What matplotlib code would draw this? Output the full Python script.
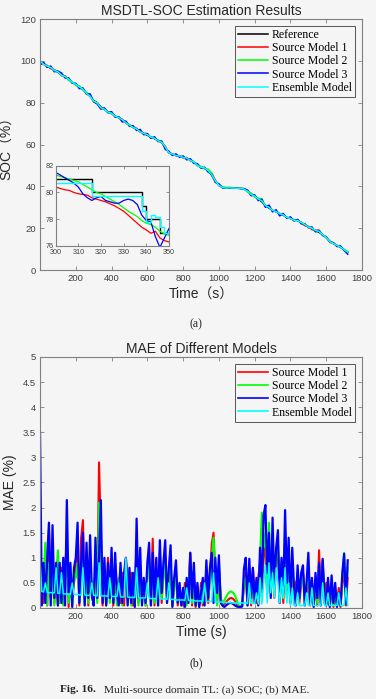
import numpy as np
import matplotlib
matplotlib.use("Agg")
import matplotlib.pyplot as plt
from matplotlib.ticker import FuncFormatter

# ---------------- data ----------------
soc_t = list(range(0, 1721, 20))
soc_ref = [99.5, 98.6, 97.4, 96.5, 95.5, 94.6, 93.3, 92.4, 91.1, 89.8,
           88.6, 87.6, 86.2, 84.6, 83.0, 81.0, 80.0, 78.0, 76.8, 75.6,
           74.8, 73.6, 72.8, 71.6, 70.6, 69.2, 68.3, 67.2, 66.2, 65.2,
           64.4, 63.6, 62.8, 62.0, 61.0, 58.6, 56.2, 55.2, 54.8, 54.4,
           54.0, 53.4, 52.6, 51.4, 50.0, 49.2, 48.6, 47.6, 45.2, 42.4,
           40.6, 39.4, 39.2, 39.2, 39.2, 39.1, 39.0, 38.8, 37.6, 36.4,
           35.2, 34.0, 32.6, 31.0, 29.6, 28.6, 27.8, 27.0, 26.2, 25.2,
           24.6, 24.0, 23.6, 22.8, 21.6, 20.6, 19.8, 18.8, 18.0, 17.0,
           15.4, 13.8, 12.6, 11.8, 10.8, 9.8, 8.4]
soc_dev_m1 = [0.1, -0.3, 0.4, -0.2, 0.3, 0.1, -0.4, 0.5, 0.2, -0.3,
              0.4, -0.2, 0.6, -0.5, 0.3, -0.6, -0.5, -0.8, 0.3, -0.2,
              0.4, -0.3, 0.2, 0.5, -0.4, 0.3, -0.2, 0.6, -0.3, 0.2,
              0.8, -0.4, 0.3, -0.5, 0.2, 0.6, -0.3, 0.4, -0.2, 0.3,
              -0.5, 0.4, -0.3, 0.2, 0.5, -0.2, 0.3, -0.4, 1.0, 0.6,
              -0.3, 0.2, 0.1, 0.2, 0.1, 0.0, 0.1, -0.2, 0.3, -0.8,
              0.5, -0.3, 0.4, -0.6, 1.2, -0.4, 0.3, -0.2, 0.5, -0.3,
              0.2, -0.4, 0.3, -0.2, -0.4, 0.3, -0.5, 0.2, 1.1, -0.3,
              0.4, -0.6, 0.3, -0.2, 0.5, -0.3, 0.2]
soc_dev_m2 = [-0.2, 0.3, -0.4, 0.6, -0.2, 0.4, -0.3, 0.2, -0.5, 0.3,
              -0.4, 0.5, -0.2, 0.3, 0.6, -0.3, -0.1, -0.6, 0.2, -0.4,
              0.3, -0.2, 0.4, -0.3, 0.2, -0.5, 0.3, -0.2, 0.4, -0.3,
              0.5, -0.2, 0.3, -0.4, 0.6, -0.3, 0.2, -0.3, 0.4, -0.2,
              0.3, -0.4, 0.2, 0.5, -0.3, 0.4, -0.2, 0.6, 1.2, -0.3,
              0.4, 0.3, 0.3, 0.3, 0.2, 0.1, 0.0, 0.2, -0.3, 0.5,
              -0.4, 0.3, 1.5, -0.5, 0.8, -0.3, 0.4, -0.2, 0.3, -0.4,
              0.3, -0.2, 0.4, -0.3, 0.5, -0.2, 0.3, -0.4, 0.8, -0.2,
              0.3, -0.4, 0.2, -0.3, 0.4, -0.2, 0.5]
soc_dev_m3 = [-1.5, 0.7, -0.5, 1.0, -0.7, 0.5, 0.9, -0.6, 0.8, -0.5,
              0.6, -0.9, 0.8, -0.5, 1.2, -0.5, -0.6, -1.0, 0.7, -0.4,
              0.9, -0.5, 0.5, -0.8, 0.6, -0.4, 0.7, -0.5, 1.0, -0.5,
              0.8, -0.6, 0.9, -0.5, 0.6, -0.9, 0.6, -0.4, 0.7, -0.5,
              0.5, -0.7, 0.6, -0.4, 0.8, -0.5, 0.5, -0.8, 0.7, -0.5,
              0.6, -0.1, 0.1, 0.0, -0.1, 0.1, 0.0, 0.1, 0.6, -0.8,
              0.7, -0.8, 1.2, -1.0, 1.4, -0.8, 1.0, -1.1, 0.8, -0.5,
              0.8, -0.5, 0.6, -0.7, 0.5, -0.4, 0.8, -0.5, 0.7, -0.5,
              0.5, -0.3, 0.5, -0.6, 0.7, -0.4, -0.8]
soc_dev_ens = [0.3, -0.2, 0.1, 0.3, -0.1, 0.2, -0.2, 0.1, 0.2, -0.1,
               0.2, -0.1, 0.3, -0.2, 0.1, -0.3, -0.2, -0.4, 0.1, -0.1,
               0.2, -0.1, 0.1, 0.2, -0.2, 0.1, -0.1, 0.2, -0.1, 0.1,
               0.3, -0.1, 0.2, -0.2, 0.1, 0.3, -0.1, 0.2, -0.1, 0.1,
               -0.2, 0.1, -0.1, 0.2, 0.1, -0.1, 0.2, -0.1, 0.4, 0.2,
               -0.1, 0.1, 0.0, 0.1, 0.0, 0.0, 0.1, -0.1, 0.1, -0.3,
               0.2, -0.1, 0.5, -0.2, 0.4, -0.1, 0.1, -0.1, 0.2, -0.1,
               0.1, -0.2, 0.1, -0.1, 0.2, -0.1, 0.3, 0.1, 0.4, -0.1,
               0.2, -0.2, 0.1, -0.1, 0.2, -0.1, 0.1]

inset_t = list(range(300, 351, 2))
inset_ref = [81, 81, 81, 81, 81, 81, 81, 81, 80, 80,
             80, 80, 80, 80, 80, 80, 80, 80, 80, 79,
             78, 78, 78, 77, 77, 77]
inset_m1 = [80.4, 80.3, 80.2, 80.15, 80.0, 79.9, 79.85, 79.8, 79.6, 79.5,
            79.4, 79.3, 79.15, 79.0, 78.8, 78.6, 78.3, 78.0, 77.7, 77.4,
            77.2, 76.95, 77.1, 76.6, 76.4, 76.3]
inset_m2 = [81.3, 81.2, 81.1, 81.0, 80.9, 80.8, 80.6, 80.4, 80.2, 80.0,
            79.9, 79.7, 79.5, 79.3, 79.1, 78.85, 78.6, 78.4, 78.2, 77.9,
            77.7, 77.6, 77.4, 77.1, 76.9, 76.8]
inset_m3 = [81.5, 81.3, 81.1, 80.9, 80.7, 80.4, 79.9, 79.6, 79.4, 79.6,
            79.7, 79.4, 79.3, 79.2, 79.2, 79.4, 79.5, 79.4, 79.1, 78.3,
            77.9, 77.8, 76.7, 75.9, 76.6, 77.3]
inset_ens = [80.7, 80.7, 80.7, 80.7, 80.7, 80.7, 80.7, 80.7, 79.75, 79.75,
             79.75, 79.75, 79.75, 79.75, 79.75, 79.75, 79.75, 79.75, 79.75, 78.6,
             77.8, 78.3, 78.2, 77.4, 77.0, 76.9]

mae_t = list(range(0, 1721, 10))
mae_m1 = [0.5, 0.65, 0.1, 0.8, 0.05, 1.55, 0.2, 1.0, 0.1, 0.7,
          0.05, 0.6, 0.8, 0.1, 0.9, 1.2, 0.02, 0.7, 0.2, 0.5,
          0.8, 1.1, 0.05, 1.4, 1.75, 0.1, 0.9, 0.05, 1.0, 0.2,
          0.1, 0.8, 0.2, 2.9, 1.5, 0.05, 0.7, 0.1, 1.0, 0.4,
          0.9, 0.05, 0.8, 0.2, 0.6, 0.1, 0.7, 0.05, 1.0, 0.6,
          0.2, 0.7, 0.05, 0.5, 1.2, 0.1, 0.8, 0.2, 0.5, 0.05,
          0.7, 1.0, 0.1, 1.38, 0.05, 0.8, 0.2, 1.1, 0.1, 0.7,
          1.0, 0.2, 0.6, 0.9, 0.05, 0.5, 0.7, 0.05, 0.4, 0.1,
          0.05, 0.5, 0.1, 0.4, 1.1, 0.05, 0.6, 0.02, 0.4, 0.05,
          0.5, 0.05, 0.4, 0.7, 0.1, 0.6, 1.27, 1.5, 0.6, 0.1,
          0.8, 0.2, 0.05, 0.08, 0.12, 0.16, 0.19, 0.2, 0.18, 0.14,
          0.08, 0.03, 0.02, 0.05, 0.4, 0.7, 0.1, 0.6, 0.05, 0.8,
          0.3, 0.1, 0.6, 0.9, 0.2, 1.3, 1.0, 0.3, 1.2, 0.4,
          1.0, 0.2, 0.9, 1.1, 0.3, 0.8, 0.1, 1.2, 0.2, 1.0,
          0.4, 0.8, 0.1, 0.5, 0.6, 0.1, 0.5, 0.7, 0.42, 0.3,
          0.6, 0.05, 0.5, 0.1, 0.4, 0.05, 1.15, 0.2, 0.95, 0.1,
          0.5, 0.1, 0.05, 0.4, 0.02, 0.3, 0.05, 0.4, 0.02, 0.5,
          0.7, 0.05, 0.6]
mae_m2 = [0.3, 0.4, 0.6, 1.3, 0.05, 0.9, 0.3, 0.8, 0.05, 0.6,
          1.15, 0.1, 0.7, 0.05, 0.8, 0.9, 0.1, 0.5, 0.05, 0.7,
          0.6, 0.9, 0.1, 0.8, 1.2, 0.05, 0.7, 0.1, 0.9, 0.3,
          0.05, 0.7, 0.1, 2.1, 1.2, 0.2, 0.6, 0.05, 0.8, 0.1,
          0.7, 0.1, 0.6, 0.05, 0.5, 0.8, 0.05, 0.6, 0.8, 0.1,
          0.6, 0.05, 0.5, 0.1, 1.0, 0.05, 0.7, 0.1, 0.4, 0.05,
          0.6, 0.9, 0.05, 1.0, 0.1, 0.7, 0.05, 1.0, 0.2, 0.6,
          0.9, 0.1, 0.5, 0.8, 0.05, 0.4, 0.6, 0.1, 0.3, 0.05,
          0.3, 0.4, 0.05, 0.5, 0.9, 0.1, 0.5, 0.05, 0.3, 0.02,
          0.4, 0.1, 0.3, 0.6, 0.2, 0.5, 1.0, 1.4, 0.7, 0.05,
          0.9, 0.2, 0.08, 0.15, 0.22, 0.28, 0.32, 0.33, 0.3, 0.25,
          0.15, 0.06, 0.03, 0.05, 0.5, 0.6, 0.05, 0.7, 0.1, 0.6,
          0.2, 0.5, 0.1, 1.0, 1.9, 1.2, 1.5, 0.5, 1.7, 0.3,
          1.3, 0.3, 1.0, 1.3, 0.2, 0.9, 0.2, 1.5, 0.4, 1.1,
          0.2, 0.9, 0.3, 0.1, 0.7, 0.2, 0.6, 0.6, 0.1, 0.4,
          0.8, 0.1, 0.5, 0.05, 0.6, 0.1, 0.8, 0.1, 0.9, 0.2,
          0.1, 0.5, 0.05, 0.5, 0.05, 0.4, 0.05, 0.3, 0.05, 0.6,
          1.1, 0.1, 0.8]
mae_m3 = [3.5, 0.05, 0.9, 0.1, 1.0, 1.7, 0.05, 1.65, 0.2, 0.9,
          0.05, 0.9, 0.1, 1.0, 0.05, 2.15, 0.3, 0.9, 0.02, 0.8,
          1.0, 1.7, 0.1, 0.9, 1.5, 0.05, 1.3, 0.2, 1.45, 0.3,
          0.05, 1.4, 0.2, 1.0, 2.15, 0.1, 1.0, 0.05, 0.9, 0.2,
          1.2, 0.1, 1.1, 0.3, 0.05, 0.9, 0.1, 0.7, 1.0, 0.05,
          0.8, 0.1, 0.7, 0.02, 1.78, 0.2, 1.2, 0.05, 0.6, 0.1,
          0.9, 1.3, 0.05, 1.1, 0.2, 1.0, 0.05, 1.35, 0.3, 0.9,
          1.35, 0.1, 0.8, 1.25, 0.02, 0.6, 0.95, 0.1, 0.5, 0.05,
          0.4, 0.02, 0.6, 0.1, 1.1, 0.2, 0.9, 0.05, 0.5, 0.02,
          0.3, 0.6, 0.05, 0.95, 0.2, 0.8, 1.1, 0.1, 1.0, 0.3,
          1.05, 0.1, 0.05, 0.02, 0.05, 0.08, 0.1, 0.1, 0.08, 0.05,
          0.03, 0.02, 0.02, 0.03, 0.78, 1.0, 0.05, 0.98, 0.2, 0.8,
          0.1, 0.6, 0.05, 1.2, 0.4, 1.85, 2.05, 0.7, 1.5, 0.2,
          1.8, 0.4, 1.2, 1.55, 0.1, 1.0, 0.3, 1.95, 0.5, 1.4,
          0.1, 1.2, 0.4, 0.05, 0.85, 0.2, 0.7, 0.85, 0.05, 0.5,
          1.1, 0.1, 0.6, 0.02, 0.7, 0.2, 0.9, 0.05, 0.98, 0.3,
          0.05, 0.6, 0.02, 0.65, 0.1, 0.5, 0.02, 0.3, 0.05, 0.7,
          1.08, 0.1, 0.95]
mae_ens = [0.95, 0.33, 0.32, 0.5, 0.31, 0.3, 0.31, 0.3, 0.3, 0.8,
           0.29, 0.29, 0.7, 0.28, 0.28, 0.28, 0.28, 0.27, 0.5, 0.27,
           0.27, 0.27, 0.26, 0.26, 0.8, 0.26, 0.25, 0.25, 0.25, 0.5,
           0.25, 0.25, 0.24, 0.9, 0.24, 0.24, 0.24, 0.24, 0.23, 0.6,
           0.23, 0.23, 0.23, 0.23, 0.5, 0.22, 0.22, 0.22, 1.0, 0.22,
           0.21, 0.21, 0.21, 0.21, 0.8, 0.2, 0.2, 0.2, 0.2, 0.2,
           0.5, 0.19, 0.19, 0.19, 0.19, 0.18, 0.6, 0.18, 0.18, 0.18,
           0.18, 0.17, 0.5, 0.17, 0.17, 0.17, 0.16, 0.16, 0.16, 0.16,
           0.16, 0.15, 0.4, 0.15, 0.15, 0.15, 0.15, 0.14, 0.14, 0.14,
           0.14, 0.13, 0.5, 0.13, 0.13, 0.13, 0.13, 0.7, 0.12, 0.12,
           0.12, 0.12, 0.12, 0.11, 0.11, 0.11, 0.11, 0.1, 0.1, 0.1,
           0.1, 0.1, 0.1, 0.1, 0.1, 0.1, 0.09, 0.5, 0.09, 0.09,
           0.09, 0.3, 0.08, 0.6, 0.08, 0.5, 0.85, 0.1, 0.9, 0.3,
           0.7, 0.2, 0.8, 0.5, 0.1, 0.6, 0.2, 0.8, 0.1, 0.5,
           0.05, 0.4, 0.05, 0.05, 0.3, 0.05, 0.05, 0.05, 0.05, 0.3,
           0.05, 0.05, 0.4, 0.05, 0.05, 0.05, 0.05, 0.05, 0.5, 0.05,
           0.05, 0.3, 0.05, 0.05, 0.05, 0.05, 0.05, 0.3, 0.05, 0.05,
           0.05, 0.4, 0.05]

soc_labels = ["Reference", "Source Model 1", "Source Model 2", "Source Model 3", "Ensemble Model"]
mae_labels = ["Source Model 1", "Source Model 2", "Source Model 3", "Ensemble Model"]
x_ticks = [200, 400, 600, 800, 1000, 1200, 1400, 1600, 1800]
soc_yticks = [0, 20, 40, 60, 80, 100, 120]
mae_yticks = [0, 0.5, 1, 1.5, 2, 2.5, 3, 3.5, 4, 4.5, 5]

# ---------------- style ----------------
BG = "#f5f5f5"
SANS = ["Liberation Sans", "DejaVu Sans"]
SANS_CJK = ["Liberation Sans", "Noto Sans CJK SC", "DejaVu Sans"]
SERIF = ["Liberation Serif", "DejaVu Serif"]
TXT = "#262626"
TICKC = "#404040"
SPINE = "#808080"
C_REF, C1, C2, C3, CE = "#000000", "#ff0000", "#00ff00", "#0000ff", "#00ffff"

plt.rcParams["font.family"] = SANS

fig = plt.figure(figsize=(3.76, 6.99), dpi=100, facecolor=BG)


def style_axes(ax, fs=6.8):
    ax.set_facecolor(BG)
    for s in ax.spines.values():
        s.set_color(SPINE)
        s.set_linewidth(0.8)
    ax.tick_params(direction="in", top=True, right=True, length=3, width=0.6,
                   color=SPINE, labelcolor=TICKC, labelsize=fs, pad=3)


t = np.array(soc_t)
ref = np.array(soc_ref)

ax1 = fig.add_axes([0.1064, 0.6137, 0.8564, 0.3591])
style_axes(ax1)
ax1.plot(t, ref, color=C_REF, lw=1.1, label=soc_labels[0])
ax1.plot(t, ref + np.array(soc_dev_m1), color=C1, lw=1.1, label=soc_labels[1])
ax1.plot(t, ref + np.array(soc_dev_m2), color=C2, lw=1.1, label=soc_labels[2])
ax1.plot(t, ref + np.array(soc_dev_m3), color=C3, lw=1.1, label=soc_labels[3])
ax1.plot(t, ref + np.array(soc_dev_ens), color=CE, lw=1.1, label=soc_labels[4])
ax1.set_xlim(0, 1800)
ax1.set_ylim(0, 120)
ax1.set_xticks(x_ticks)
ax1.set_yticks(soc_yticks)
ax1.set_title("MSDTL-SOC Estimation Results", fontsize=10, color=TXT, pad=3)
ax1.set_xlabel("Time（s）", family=SANS_CJK, fontsize=10, color=TXT, labelpad=3)
ax1.set_ylabel("SOC（%）", family=SANS_CJK, fontsize=10, color=TXT, labelpad=4)
leg1 = ax1.legend(loc="upper right", prop={"family": SERIF, "size": 8.5},
                  frameon=True, fancybox=False, edgecolor="#555555", facecolor=BG,
                  framealpha=1, handlelength=2.6, handletextpad=0.3,
                  labelspacing=0.1, borderpad=0.25, borderaxespad=0.6)
leg1.get_frame().set_linewidth(0.7)

# inset
axi = fig.add_axes([0.1481, 0.6481, 0.3013, 0.1149])
style_axes(axi, fs=5.2)
axi.tick_params(axis="y", length=2, pad=1.5)
axi.tick_params(axis="x", length=2, pad=2.5)
axi.plot(inset_t, inset_ref, color=C_REF, lw=1.0, drawstyle="steps-post")
axi.plot(inset_t, inset_m1, color=C1, lw=0.9)
axi.plot(inset_t, inset_m2, color=C2, lw=0.9)
axi.plot(inset_t, inset_m3, color=C3, lw=0.9)
axi.plot(inset_t, inset_ens, color=CE, lw=1.0, drawstyle="steps-post")
axi.set_xlim(300, 350)
axi.set_ylim(76, 82)
axi.set_xticks([300, 310, 320, 330, 340, 350])
axi.set_yticks([76, 78, 80, 82])

# MAE panel
ax2 = fig.add_axes([0.1064, 0.1302, 0.8564, 0.3591])
style_axes(ax2)
mt = np.array(mae_t)
ax2.plot(mt, mae_m1, color=C1, lw=1.5, label=mae_labels[0])
ax2.plot(mt, mae_m2, color=C2, lw=1.5, label=mae_labels[1])
ax2.plot(mt, mae_m3, color=C3, lw=1.6, label=mae_labels[2])
ax2.plot(mt, mae_ens, color=CE, lw=1.1, label=mae_labels[3])
ax2.set_xlim(0, 1800)
ax2.set_ylim(0, 5)
ax2.set_xticks(x_ticks)
ax2.set_yticks(mae_yticks)
ax2.yaxis.set_major_formatter(FuncFormatter(lambda v, p: f"{v:g}"))
ax2.set_title("MAE of Different Models", fontsize=10, color=TXT, pad=3)
ax2.set_xlabel("Time (s)", fontsize=10, color=TXT, labelpad=3)
ax2.set_ylabel("MAE (%)", fontsize=10, color=TXT, labelpad=4)
leg2 = ax2.legend(loc="upper right", prop={"family": SERIF, "size": 8.5},
                  frameon=True, fancybox=False, edgecolor="#555555", facecolor=BG,
                  framealpha=1, handlelength=2.6, handletextpad=0.3,
                  labelspacing=0.1, borderpad=0.25, borderaxespad=0.6)
leg2.get_frame().set_linewidth(0.7)
for line in leg2.get_lines():
    line.set_linewidth(1.2)

# panel labels and caption
fig.text(0.522, 1 - 324 / 699, "(a)", family=SERIF, fontsize=8.5, color="#222222",
         ha="center", va="center")
fig.text(0.522, 1 - 663 / 699, "(b)", family=SERIF, fontsize=8.5, color="#222222",
         ha="center", va="center")
fig.text(60 / 376, 1 - 690 / 699, "Fig. 16.", family=SERIF, fontsize=8.2, fontweight="bold",
         color="#222222", ha="left", va="center")
fig.text(104 / 376, 1 - 690 / 699, "Multi-source domain TL: (a) SOC; (b) MAE.", family=SERIF,
         fontsize=8.2, color="#222222", ha="left", va="center")

fig.savefig("out.png", dpi=100, facecolor=BG)
